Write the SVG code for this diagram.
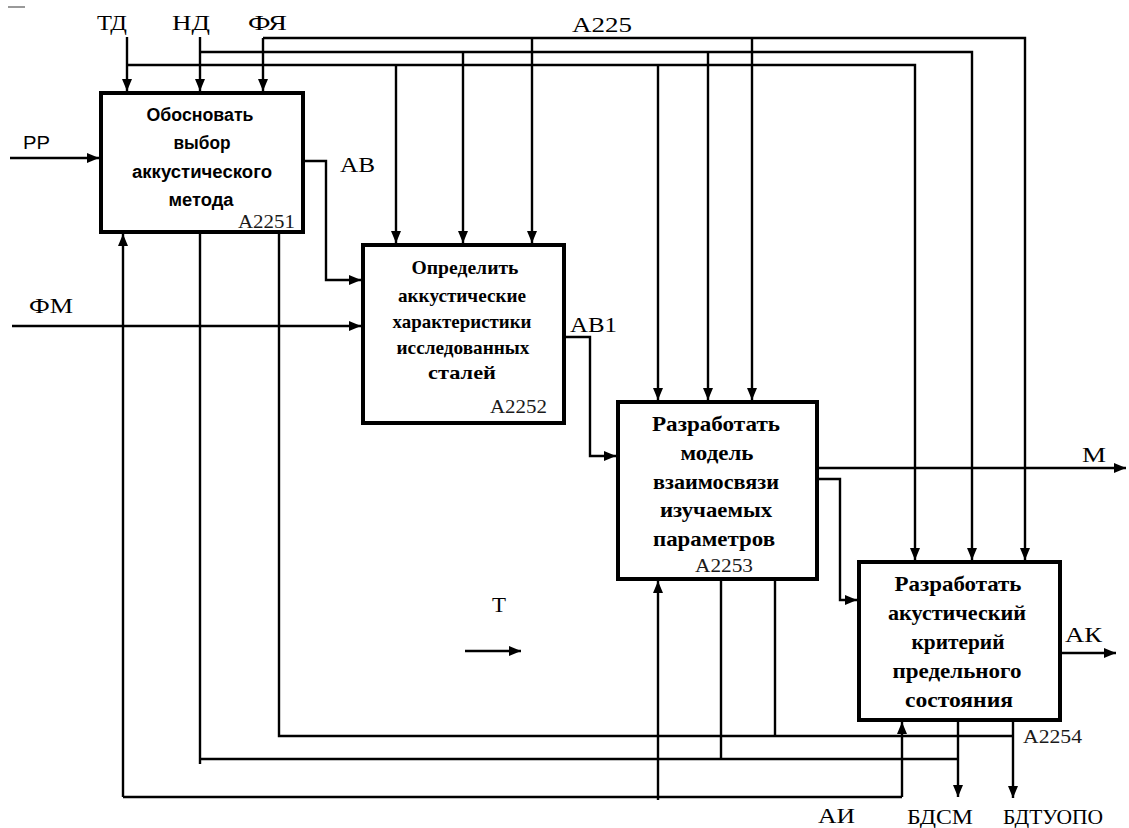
<svg xmlns="http://www.w3.org/2000/svg" width="1129" height="828" viewBox="0 0 1129 828">
<defs>
<marker id="arr" markerUnits="userSpaceOnUse" markerWidth="12" markerHeight="10" refX="12" refY="5" orient="auto"><path d="M0,0 L12,5 L0,10 Z" fill="#000"/></marker>
<style>
.box{fill:#fff;stroke:#000;stroke-width:4}
.ln{fill:none;stroke:#000;stroke-width:2.4}
.a{marker-end:url(#arr)}
.lbl{font-family:"Liberation Serif","Times New Roman",serif;font-size:21px;fill:#000}
.lbls{font-family:"Liberation Sans",Arial,sans-serif;font-size:19px;fill:#000}
.code{font-family:"Liberation Serif","Times New Roman",serif;font-size:19px;fill:#1a1a1a}
.t1{font-family:"Liberation Sans",Arial,sans-serif;font-weight:bold;font-size:18px;text-anchor:middle;fill:#000}
.t2{font-family:"Liberation Serif","Times New Roman",serif;font-weight:bold;font-size:19px;text-anchor:middle;fill:#000}
.t3{font-family:"Liberation Serif","Times New Roman",serif;font-weight:bold;font-size:21px;text-anchor:middle;fill:#000}
</style>
</defs>
<rect width="1129" height="828" fill="#fff"/>
<line x1="8" y1="7" x2="25" y2="7" stroke="#777" stroke-width="1.5"/>

<g id="connectors">
<path class="ln a" d="M127,37 V91"/>
<path class="ln a" d="M200,37 V91"/>
<path class="ln a" d="M263,38 V91"/>
<path class="ln a" d="M127,65 H915 V560"/>
<path class="ln a" d="M200,52 H972 V560"/>
<path class="ln a" d="M263,38 H1025 V560"/>
<path class="ln a" d="M396,65 V243"/>
<path class="ln a" d="M463,52 V243"/>
<path class="ln a" d="M532,38 V243"/>
<path class="ln a" d="M658,65 V400"/>
<path class="ln a" d="M708,52 V400"/>
<path class="ln a" d="M752,38 V400"/>
<path class="ln a" d="M10,158 H99"/>
<path class="ln a" d="M12,326 H361"/>
<path class="ln a" d="M303,161 H326 V280 H361"/>
<path class="ln a" d="M564,337 H590 V456 H616"/>
<path class="ln a" d="M817,468 H1126"/>
<path class="ln a" d="M817,479 H840 V600 H857"/>
<path class="ln a" d="M1060,653 H1116"/>
<path class="ln a" d="M465,651 H521"/>
<path class="ln" d="M123,797 H902"/>
<path class="ln a" d="M123,797 V234"/>
<path class="ln a" d="M658,800 V581"/>
<path class="ln a" d="M902,797 V722"/>
<path class="ln" d="M200,232 V764"/>
<path class="ln" d="M200,759 H958"/>
<path class="ln" d="M721,579 V759"/>
<path class="ln a" d="M958,720 V797"/>
<path class="ln" d="M279,232 V736 H1013"/>
<path class="ln" d="M775,579 V736"/>
<path class="ln a" d="M1013,720 V798"/>
</g>

<g id="node-A2251">
<rect class="box" x="101" y="93" width="202" height="139"/>
<text class="t1" x="200" y="121" textLength="107" lengthAdjust="spacingAndGlyphs">Обосновать</text>
<text class="t1" x="202" y="149" textLength="57" lengthAdjust="spacingAndGlyphs">выбор</text>
<text class="t1" x="202" y="178" textLength="140" lengthAdjust="spacingAndGlyphs">аккустического</text>
<text class="t1" x="201" y="206" textLength="65" lengthAdjust="spacingAndGlyphs">метода</text>
<text class="code" x="238" y="228" textLength="57" lengthAdjust="spacingAndGlyphs">A2251</text>
</g>

<g id="node-A2252">
<rect class="box" x="363" y="245" width="201" height="178"/>
<text class="t2" x="465" y="274" textLength="107" lengthAdjust="spacingAndGlyphs">Определить</text>
<text class="t2" x="462" y="302" textLength="128" lengthAdjust="spacingAndGlyphs">аккустические</text>
<text class="t2" x="462" y="328" textLength="139" lengthAdjust="spacingAndGlyphs">характеристики</text>
<text class="t2" x="463" y="354" textLength="133" lengthAdjust="spacingAndGlyphs">исследованных</text>
<text class="t2" x="462" y="379" textLength="68" lengthAdjust="spacingAndGlyphs">сталей</text>
<text class="code" x="490" y="413" textLength="57" lengthAdjust="spacingAndGlyphs">A2252</text>
</g>

<g id="node-A2253">
<rect class="box" x="618" y="402" width="199" height="177"/>
<text class="t3" x="716" y="431" textLength="128" lengthAdjust="spacingAndGlyphs">Разработать</text>
<text class="t3" x="717" y="460" textLength="73" lengthAdjust="spacingAndGlyphs">модель</text>
<text class="t3" x="716" y="489" textLength="126" lengthAdjust="spacingAndGlyphs">взаимосвязи</text>
<text class="t3" x="716" y="517" textLength="112" lengthAdjust="spacingAndGlyphs">изучаемых</text>
<text class="t3" x="714" y="546" textLength="122" lengthAdjust="spacingAndGlyphs">параметров</text>
<text class="code" x="695" y="572" textLength="58" lengthAdjust="spacingAndGlyphs">A2253</text>
</g>

<g id="node-A2254">
<rect class="box" x="859" y="562" width="201" height="158"/>
<text class="t3" x="958" y="591" textLength="127" lengthAdjust="spacingAndGlyphs">Разработать</text>
<text class="t3" x="957" y="620" textLength="138" lengthAdjust="spacingAndGlyphs">акустический</text>
<text class="t3" x="958" y="649" textLength="93" lengthAdjust="spacingAndGlyphs">критерий</text>
<text class="t3" x="957" y="678" textLength="129" lengthAdjust="spacingAndGlyphs">предельного</text>
<text class="t3" x="959" y="707" textLength="108" lengthAdjust="spacingAndGlyphs">состояния</text>
<text class="code" x="1023" y="743" textLength="59" lengthAdjust="spacingAndGlyphs">A2254</text>
</g>

<g id="labels">
<text class="lbl" x="97" y="30" textLength="30" lengthAdjust="spacingAndGlyphs">ТД</text>
<text class="lbl" x="172" y="30" textLength="38" lengthAdjust="spacingAndGlyphs">НД</text>
<text class="lbl" x="248" y="30" textLength="39" lengthAdjust="spacingAndGlyphs">ФЯ</text>
<text class="lbl" x="572" y="32" textLength="60" lengthAdjust="spacingAndGlyphs">A225</text>
<text class="lbls" x="23" y="149" textLength="27" lengthAdjust="spacingAndGlyphs">РР</text>
<text class="lbl" x="340" y="172" textLength="35" lengthAdjust="spacingAndGlyphs">АВ</text>
<text class="lbl" x="29" y="313" textLength="44" lengthAdjust="spacingAndGlyphs">ФМ</text>
<text class="lbl" x="570" y="332" textLength="47" lengthAdjust="spacingAndGlyphs">АВ1</text>
<text class="lbl" x="1082" y="462" textLength="24" lengthAdjust="spacingAndGlyphs">М</text>
<text class="lbl" x="492" y="612" textLength="14" lengthAdjust="spacingAndGlyphs">Т</text>
<text class="lbl" x="1065" y="642" textLength="37" lengthAdjust="spacingAndGlyphs">АК</text>
<text class="lbl" x="818" y="823" textLength="37" lengthAdjust="spacingAndGlyphs">АИ</text>
<text class="lbl" x="907" y="824" textLength="66" lengthAdjust="spacingAndGlyphs">БДСМ</text>
<text class="lbl" x="1003" y="824" textLength="100" lengthAdjust="spacingAndGlyphs">БДТУОПО</text>
</g>
</svg>
